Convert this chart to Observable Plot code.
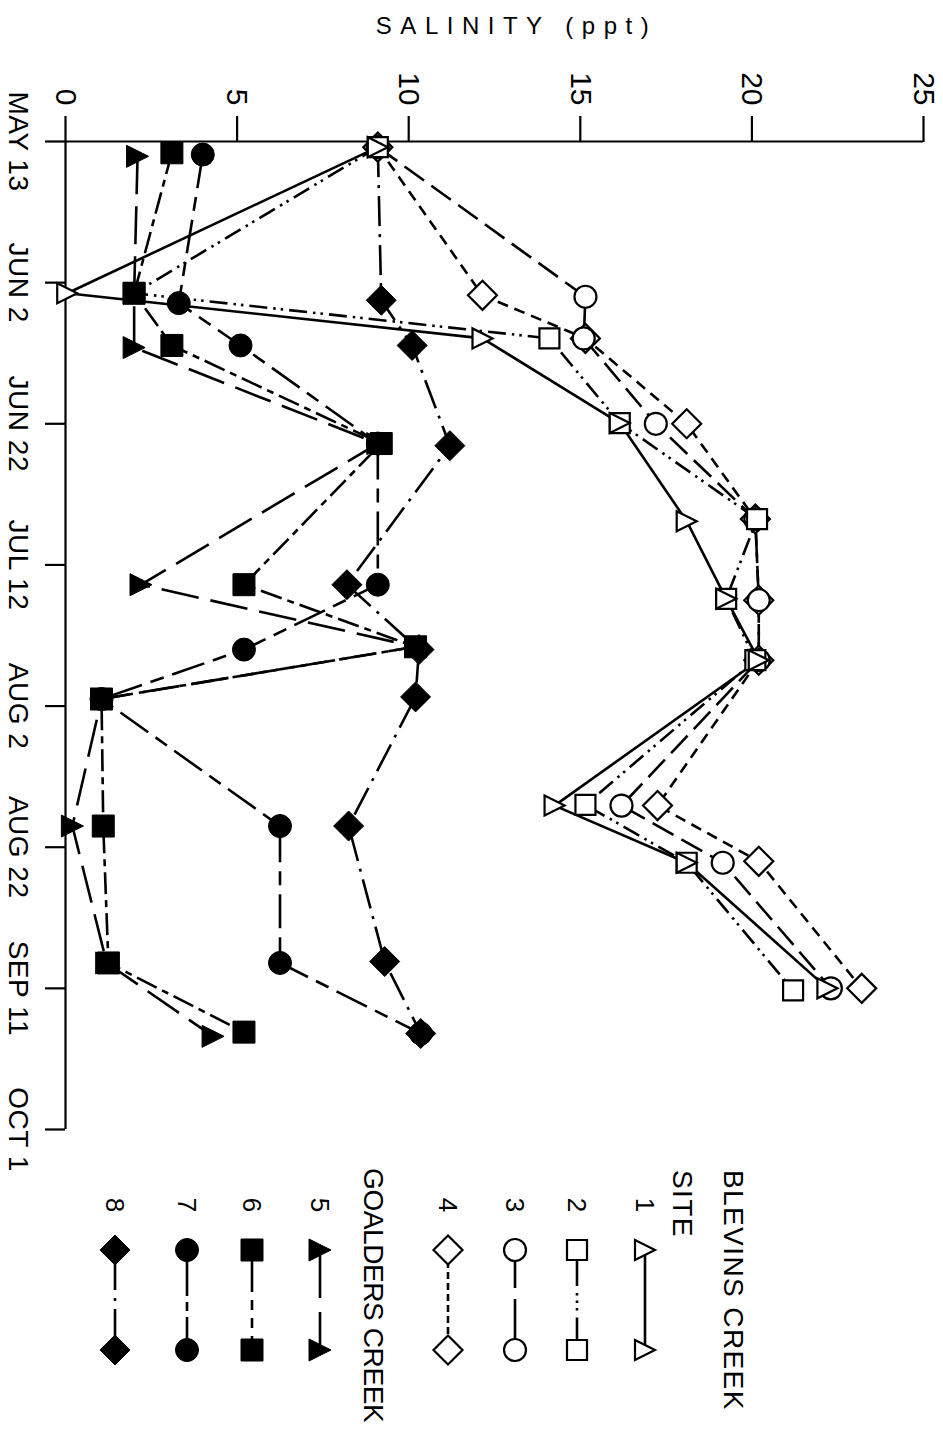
<!DOCTYPE html>
<html>
<head>
<meta charset="utf-8">
<script src="https://cdn.jsdelivr.net/npm/d3@7"></script>
<script src="https://cdn.jsdelivr.net/npm/@observablehq/plot@0.6"></script>
<style>
  html, body { margin: 0; padding: 0; background: #fff; }
  #chart { width: 943px; height: 1438px; overflow: hidden; background: #fff; }
  #chart svg { display: block; }
</style>
</head>
<body>
<div id="chart"></div>
<script>
const FONT = '"Liberation Sans", Arial, sans-serif';

// Axis ticks (date axis is evenly spaced, 20 "days" per tick)
const dateTicks = [0, 20, 40, 60, 80, 100, 120, 140];
const dateLabels = ["MAY 13", "JUN 2", "JUN 22", "JUL 12", "AUG 2", "AUG 22", "SEP 11", "OCT 1"];
const salinityTicks = [0, 5, 10, 15, 20, 25];

// Blevins Creek sites
const site1Day = [0.8, 21.5, 27.9, 39.9, 53.8, 64.8, 73.5, 94.1, 102.2, 120];
const site1Sal = [9.1, 0.05, 12.15, 16.15, 18.1, 19.25, 20.2, 14.25, 18.1, 22.2];
const site2Day = [0.8, 21.5, 27.9, 39.9, 53.5, 64.8, 73.5, 94.0, 102.2, 120.3];
const site2Sal = [9.1, 2.0, 14.1, 16.15, 20.15, 19.25, 20.1, 15.15, 18.1, 21.2];
const site3Day = [0.8, 22.0, 27.9, 40.0, 53.5, 65.0, 73.5, 94.1, 102.2, 120];
const site3Sal = [9.1, 15.15, 15.1, 17.2, 20.1, 20.2, 20.2, 16.2, 19.15, 22.3];
const site4Day = [0.8, 21.8, 27.9, 40.0, 53.5, 65.0, 73.5, 94.1, 102.0, 120];
const site4Sal = [9.1, 12.15, 15.15, 18.1, 20.1, 20.2, 20.2, 17.25, 20.2, 23.2];

// Goalders Creek sites
const site5Day = [2.1, 21.5, 29.2, 42.8, 62.8, 71.6, 79.0, 97.0, 116.4, 126.8];
const site5Sal = [2.1, 2.0, 2.0, 9.1, 2.2, 10.2, 1.05, 0.2, 1.2, 4.3];
const site6Day = [1.6, 21.5, 28.9, 42.8, 62.8, 71.6, 79.0, 97.0, 116.4, 126.2];
const site6Sal = [3.1, 2.0, 3.1, 9.2, 5.2, 10.2, 1.05, 1.1, 1.25, 5.2];
const site7Day = [1.85, 22.9, 28.9, 42.8, 62.8, 72.0, 79.0, 97.0, 116.4, 126.4];
const site7Sal = [4.0, 3.3, 5.1, 9.1, 9.1, 5.2, 1.05, 6.25, 6.25, 10.35];
const site8Day = [0.8, 22.5, 28.9, 43.1, 62.8, 72.0, 78.7, 97.0, 116.2, 126.4];
const site8Sal = [9.1, 9.2, 10.1, 11.2, 8.2, 10.3, 10.2, 8.25, 9.3, 10.35];

// ---- symbols ----
function mk(fn) { return { draw(ctx, size) { fn(ctx, Math.sqrt(size / Math.PI)); } }; }
const triRight = mk((c, r) => { c.moveTo(r, 0); c.lineTo(-r, -r); c.lineTo(-r, r); c.closePath(); });
const square = mk((c, r) => { c.moveTo(-r, -r); c.lineTo(r, -r); c.lineTo(r, r); c.lineTo(-r, r); c.closePath(); });
const circle = mk((c, r) => { c.moveTo(r, 0); c.arc(0, 0, r, 0, 2 * Math.PI); c.closePath(); });
const diamond = mk((c, r) => { c.moveTo(0, -r); c.lineTo(r, 0); c.lineTo(0, r); c.lineTo(-r, 0); c.closePath(); });

const sites = [
  {id: "1", day: site1Day, sal: site1Sal, sym: triRight, r: 10, open: true, dash: null, ldash: null},
  {id: "2", day: site2Day, sal: site2Sal, sym: square, r: 10, open: true, dash: "18,6,2.5,5,2.5,6", ldash: "36,7,2.5,5,2.5,5,2.5,7,40"},
  {id: "3", day: site3Day, sal: site3Sal, sym: circle, r: 11, open: true, dash: "24,9", ldash: "38,11,40"},
  {id: "4", day: site4Day, sal: site4Sal, sym: diamond, r: 14.5, open: true, dash: "11,7", ldash: "7,4"},
  {id: "5", day: site5Day, sal: site5Sal, sym: triRight, r: 11, open: false, dash: "38,12", ldash: "48,14,40"},
  {id: "6", day: site6Day, sal: site6Sal, sym: square, r: 11, open: false, dash: "22,6,7,6", ldash: "42,8,10,8,10,8,40"},
  {id: "7", day: site7Day, sal: site7Sal, sym: circle, r: 11.5, open: false, dash: "34,9,14,9", ldash: "46,6,9,6,40"},
  {id: "8", day: site8Day, sal: site8Sal, sym: diamond, r: 15, open: false, dash: "30,8,3,8", ldash: "40,8,3,8,40"}
];
sites.forEach(s => { s.rows = s.day.map((d, i) => ({day: d, sal: s.sal[i]})); });
const byId = id => sites.find(s => s.id === id);

const TITLE = "SALINITY (ppt)";
const LW = 2.6;
const marks = [];
// axes lines
marks.push(Plot.ruleY([0], {stroke: "black", strokeWidth: 2.2}));
marks.push(Plot.ruleX([0], {stroke: "black", strokeWidth: 2.2}));
marks.push(Plot.axisX({anchor: "top", ticks: salinityTicks, tickSize: 26, tickFormat: () => "", label: null, strokeWidth: 2.2}));
marks.push(Plot.axisY({anchor: "left", ticks: dateTicks, tickSize: 20, tickFormat: () => "", label: null, strokeWidth: 2.2}));
// tick labels (rotated like the original page)
marks.push(Plot.text(salinityTicks, {x: d => d, text: d => String(d), frameAnchor: "top", dy: -36, rotate: 90,
  textAnchor: "end", lineAnchor: "middle", fontSize: 30, fill: "black"}));
marks.push(Plot.text(dateTicks, {y: d => d, text: (d, i) => dateLabels[i], frameAnchor: "left", dx: -48, rotate: 90,
  textAnchor: "middle", lineAnchor: "middle", fontSize: 28, fill: "black"}));
// title
marks.push(Plot.text([TITLE], {frameAnchor: "top", dx: 22, dy: -115, fontSize: 24, fill: "black",
  lineAnchor: "middle"}));

// lines
for (const s of sites) {
  marks.push(Plot.line(s.rows, {x: "sal", y: "day", stroke: "black", strokeWidth: LW,
    strokeDasharray: s.dash, strokeLinecap: "butt", strokeLinejoin: "round"}));
}
// markers (draw order chosen so overlapping symbols read like the original)
for (const id of ["8", "4", "3", "2", "1", "5", "6", "7"]) {
  const s = byId(id);
  marks.push(Plot.dot(s.rows, {x: "sal", y: "day", symbol: s.sym, r: s.r,
    fill: s.open ? "white" : "black", stroke: "black", strokeWidth: s.open ? 2.2 : 1}));
}

const chart = Plot.plot({
  width: 943, height: 1140,
  marginTop: 141, marginBottom: 11, marginLeft: 65, marginRight: 20,
  x: {domain: [0, 25]},
  y: {domain: [0, 140], reverse: true},
  style: {fontFamily: FONT, background: "white", color: "black", overflow: "visible"},
  marks
});
// letter spacing for lettered labels
d3.select(chart).selectAll("text").each(function () {
  const t = this.textContent;
  if (t === TITLE) this.style.letterSpacing = "8.5px";
  else if (dateLabels.includes(t)) this.style.letterSpacing = "0.5px";
});
document.getElementById("chart").appendChild(chart);

// ---- legend (below the plot SVG, rotated like the page) ----
const L0 = 1140;
const leg = d3.create("svg").attr("width", 943).attr("height", 298)
  .style("font-family", FONT).style("display", "block");
function vtext(x, y, s, size, anchor, ls) {
  leg.append("text")
    .attr("transform", `translate(${x},${y - L0}) rotate(90)`)
    .attr("text-anchor", anchor).attr("dy", "0.35em")
    .attr("font-size", size).attr("fill", "black")
    .style("letter-spacing", ls + "px").text(s);
}
vtext(734, 1170, "BLEVINS CREEK", 28, "start", 1.4);
vtext(683, 1170, "SITE", 28, "start", 1.4);
vtext(374, 1168, "GOALDERS CREEK", 28, "start", -0.4);
const legendX = {"1": 645, "2": 577, "3": 515, "4": 448, "5": 320, "6": 252, "7": 187, "8": 115};
const ya = 1250 - L0, yb = 1350 - L0;
for (const s of sites) {
  const x = legendX[s.id];
  vtext(x, 1205, s.id, 26, "middle", 0);
  leg.append("line").attr("x1", x).attr("x2", x).attr("y1", ya).attr("y2", yb)
    .attr("stroke", "black").attr("stroke-width", LW)
    .attr("stroke-dasharray", s.ldash);
  for (const y of [ya, yb]) {
    leg.append("path")
      .attr("transform", `translate(${x},${y})`)
      .attr("d", d3.symbol(s.sym, Math.PI * s.r * s.r)())
      .attr("fill", s.open ? "white" : "black")
      .attr("stroke", "black").attr("stroke-width", s.open ? 2.2 : 1);
  }
}
document.getElementById("chart").appendChild(leg.node());
</script>
</body>
</html>
